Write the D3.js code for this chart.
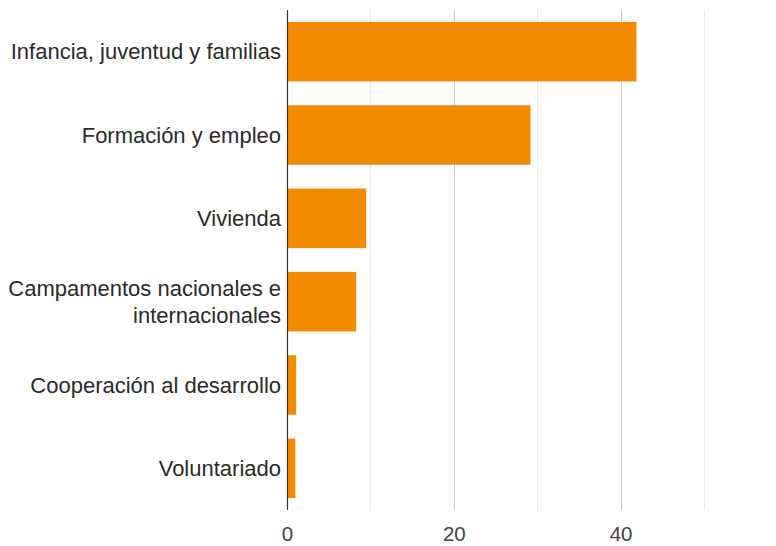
<!DOCTYPE html>
<html><head><meta charset="utf-8">
<script src="https://cdn.jsdelivr.net/npm/d3@7"></script>
<style>body{margin:0;background:#fff}svg{display:block}</style>
</head><body>
<svg id="c" width="776" height="546"></svg>
<script>
const categories = [
  ["Infancia, juventud y familias"],
  ["Formación y empleo"],
  ["Vivienda"],
  ["Campamentos nacionales e", "internacionales"],
  ["Cooperación al desarrollo"],
  ["Voluntariado"]
];
const values = [41.9, 29.2, 9.5, 8.3, 1.1, 1.0];
const majorTicks = [0, 20, 40];
const gridTicks = [10, 20, 30, 40, 50];

const svg = d3.select("#c");
const m = {left: 287, right: 72, top: 10, bottom: 36};
const W = 776, H = 546;
const x = d3.scaleLinear().domain([0, 50]).range([m.left, W - m.right]);
const y = d3.scaleBand().domain(d3.range(categories.length))
  .range([m.top, H - m.bottom]).paddingInner(0.286).paddingOuter(0.143);

const font = "'Liberation Sans', Arial, sans-serif";

// gridlines
svg.append("g").selectAll("line").data(gridTicks).join("line")
  .attr("x1", d => Math.round(x(d)) + 0.5).attr("x2", d => Math.round(x(d)) + 0.5)
  .attr("y1", m.top).attr("y2", H - m.bottom)
  .attr("stroke", d => d % 20 === 0 ? "#cccccc" : "#ebebeb").attr("stroke-width", 1);

// bars
svg.append("g").selectAll("rect").data(values).join("rect")
  .attr("x", x(0)).attr("y", (d, i) => y(i))
  .attr("width", d => x(d) - x(0)).attr("height", y.bandwidth())
  .attr("fill", "#f28b00");

// zero line
svg.append("line")
  .attr("x1", Math.round(x(0)) + 0.5).attr("x2", Math.round(x(0)) + 0.5)
  .attr("y1", m.top).attr("y2", H - m.bottom)
  .attr("stroke", "#333").attr("stroke-width", 1.2);

// x axis labels
const xAxis = d3.axisBottom(x).tickValues(majorTicks).tickSize(0).tickPadding(0);
const gx = svg.append("g").attr("transform", `translate(0,${H - m.bottom + 16})`).call(xAxis);
gx.select(".domain").remove();
gx.selectAll("text").attr("font-family", font).attr("font-size", 20.5)
  .attr("fill", "#444").attr("dy", "0.71em");

// category labels
const lh = 27;
const lg = svg.append("g");
categories.forEach((lines, i) => {
  const cy = y(i) + y.bandwidth() / 2;
  const t = lg.append("text").attr("x", m.left - 6).attr("text-anchor", "end")
    .attr("font-family", font).attr("font-size", 22).attr("fill", "#2a2a2a");
  lines.forEach((ln, j) => {
    t.append("tspan").attr("x", m.left - 6)
      .attr("y", cy + (j - (lines.length - 1) / 2) * lh)
      .attr("dy", "0.35em").text(ln);
  });
});
</script>
</body></html>
